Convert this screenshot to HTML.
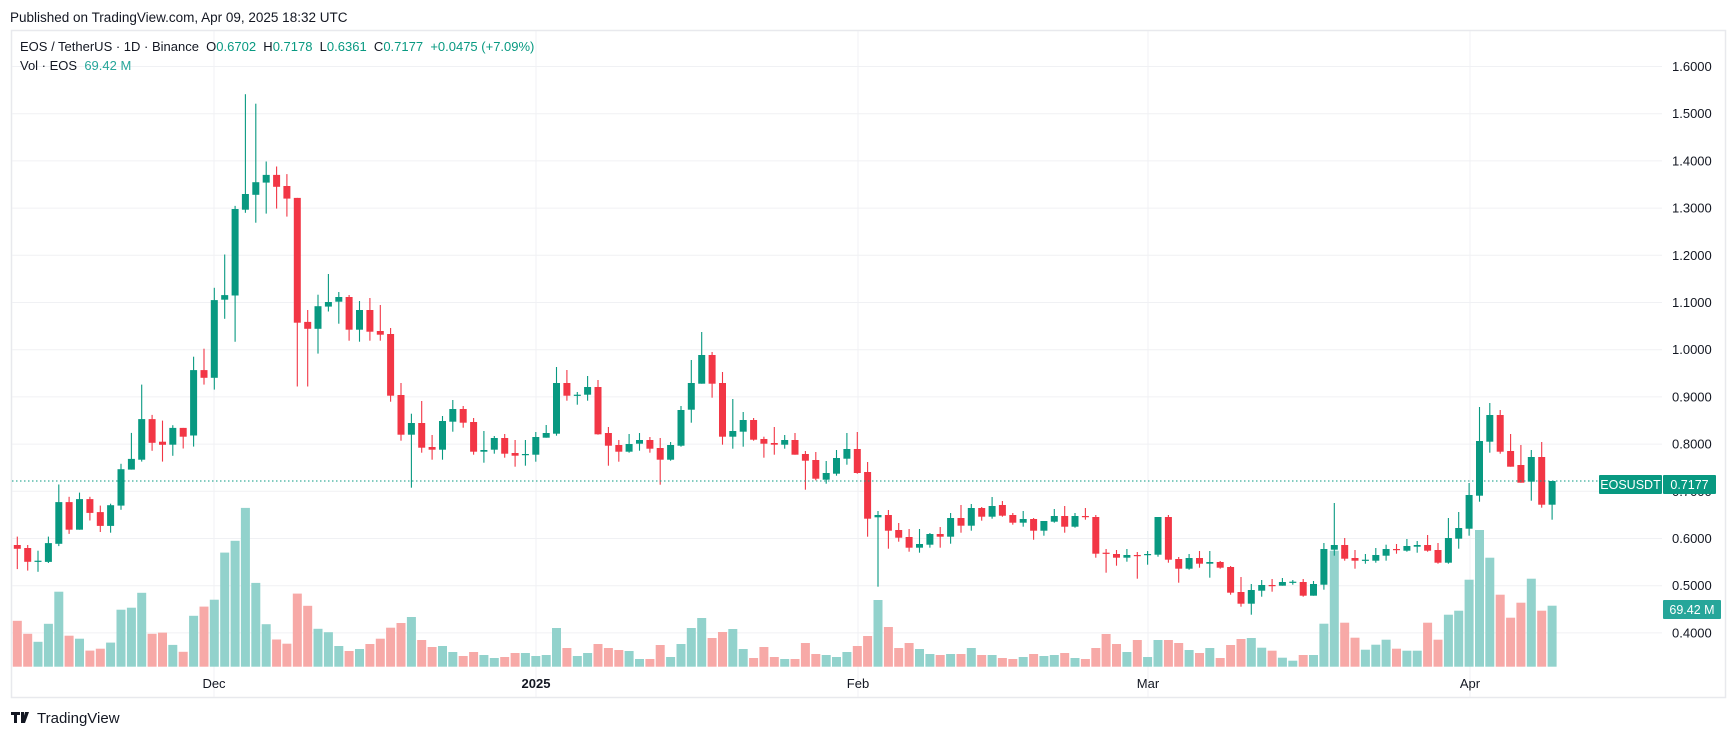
<!DOCTYPE html>
<html><head><meta charset="utf-8"><style>
html,body{margin:0;padding:0;background:#fff;width:1736px;height:737px;overflow:hidden}
svg{display:block}
text{font-family:"Liberation Sans",sans-serif;white-space:pre}
</style></head><body>
<div id="c"></div>
<script>
var S=[
[80,1/2.613,0,[[1215,1225,1193,1278,'r',1413],[1223,1259,1215,1282,'r',1447],[1256,1259,1230,1285,'g',1468],[1210,1259,1193,1262,'g',1421],[1103,1212,1057,1218,'g',1337],[1103,1175,1089,1186,'r',1452],[1095,1175,1078,1175,'g',1460],[1095,1131,1089,1151,'r',1491],[1129,1165,1112,1181,'r',1486],[1111,1165,1107,1183,'g',1470],[1017,1112,1003,1123,'g',1384],[990,1018,922,1018,'g',1379],[886,992,796,997,'g',1340],[886,948,875,969,'r',1447],[945,953,890,997,'r',1444],[909,953,902,982,'g',1476],[909,932,909,963,'r',1494],[758,929,723,958,'g',1400],[758,778,702,796,'r',1376],[575,778,543,809,'g',1358],[562,574,456,624,'g',1235],[337,563,329,684,'g',1204],[298,339,37,347,'g',1118],[267,300,62,373,'g',1314],[248,268,213,349,'g',1422],[248,279,226,336,'r',1462],[277,310,246,357,'r',1473],[308,634,308,801,'r',1342],[632,650,601,801,'r',1374],[591,650,561,715,'g',1434],[580,592,507,605,'g',1443]]],
[230,1/3,31,[[201,215,186,281,'g',1248],[201,299,195,332,'r',1263],[240,299,213,335,'g',1257],[240,305,204,332,'r',1242],[303,314,225,332,'r',1226],[312,497,294,515,'r',1193],[495,614,459,632,'r',1179],[579,614,551,773,'g',1161],[579,653,513,668,'r',1230],[651,659,615,689,'r',1251],[573,659,558,689,'g',1248],[537,575,510,605,'g',1266],[537,578,528,593,'r',1278],[576,665,564,674,'r',1266],[660,665,603,698,'g',1275],[624,659,618,671,'g',1284],[624,671,612,683,'r',1281],[669,677,630,710,'r',1269],[672,675,630,707,'g',1269],[621,674,606,695,'g',1278],[609,623,585,623,'g',1275],[459,611,411,617,'g',1194],[459,497,420,512,'r',1254],[494,497,486,524,'g',1278],[471,494,438,512,'g',1269],[471,613,450,614,'r',1242],[609,647,591,707,'r',1254],[645,665,630,695,'r',1260],[642,665,612,668,'g',1263]]],
[300,1/3,60,[[420,431,399,452,'g',1077],[420,446,411,458,'r',1077],[444,479,414,554,'r',1035],[435,479,426,482,'g',1071],[330,437,318,440,'g',1032],[249,329,180,368,'g',984],[165,251,96,251,'g',954],[165,251,156,293,'r',1014],[249,410,216,434,'r',996],[393,410,297,446,'g',987],[360,395,336,440,'g',1047],[360,419,354,422,'r',1074],[417,431,410,473,'r',1041],[429,434,381,464,'r',1071],[420,434,405,446,'g',1077],[420,464,399,464,'r',1077],[462,482,453,569,'r',1029],[480,536,456,541,'r',1062],[519,539,483,551,'g',1065],[474,521,450,527,'g',1071],[447,476,399,494,'g',1056],[447,519,396,521,'r',1038],[516,656,486,710,'r',1008],[645,652,633,860,'g',900],[645,692,630,746,'r',981],[690,713,669,725,'r',1044],[711,743,687,755,'r',1029],[732,743,687,758,'g',1047],[702,734,699,743,'g',1062],[702,710,681,743,'r',1065]]],
[470,1/3,90,[[144,200,129,221,'g',552],[144,167,105,188,'r',552],[114,167,102,182,'g',534],[114,140,111,152,'r',555],[108,140,81,146,'g',555],[105,137,93,140,'r',564],[135,158,129,164,'r',567],[147,158,123,170,'g',561],[147,182,144,209,'r',552],[153,182,153,197,'g',558],[138,155,117,158,'g',555],[138,170,108,188,'r',549],[138,170,129,173,'g',564],[138,140,114,149,'r',567],[141,251,135,263,'r',534],[248,251,237,308,'r',492],[252,263,240,287,'r',522],[255,263,237,275,'g',546],[255,257,246,326,'r',510],[252,254,243,284,'g',561],[141,254,141,260,'g',510],[141,269,135,278,'r',510],[267,296,261,338,'r',519],[264,296,252,299,'g',540],[264,281,243,293,'r',549],[276,281,243,323,'g',534],[276,293,273,296,'r',564],[291,368,288,374,'r',525],[366,401,321,410,'r',507],[360,401,342,434,'g',504]]],
[380,1/3,120,[[615,632,600,650,'g',803],[615,617,597,635,'r',812],[606,617,594,617,'g',833],[605,607,600,614,'g',842],[606,647,597,650,'r',825],[612,647,603,647,'g',825],[507,614,489,629,'g',731],[495,509,369,527,'g',512],[495,536,474,542,'r',728],[534,542,510,566,'r',773],[539,542,522,551,'g',809],[525,542,504,548,'g',794],[507,527,494,542,'g',779],[507,509,492,521,'r',806],[498,512,477,515,'g',812],[495,500,483,518,'g',812],[495,512,465,515,'r',728],[510,548,489,551,'r',779],[474,548,414,551,'g',704],[444,476,396,506,'g',692],[345,446,309,467,'g',599],[183,347,81,365,'g',450],[105,185,69,218,'g',533],[105,215,90,221,'r',644],[213,260,162,260,'r',713],[255,308,195,308,'r',668],[231,305,210,362,'g',596],[231,374,186,383,'r',692],[303,374,303,419,'g',677]]]
];
var o=[];
o.push('<svg xmlns="http://www.w3.org/2000/svg" width="1736" height="737" viewBox="0 0 1736 737">');
o.push('<rect width="1736" height="737" fill="#fff"/>');
o.push('<text x="10" y="22" font-size="13.5" fill="#131722">Published on TradingView.com, Apr 09, 2025 18:32 UTC</text>');
o.push('<rect x="11.5" y="30.5" width="1714" height="667" fill="none" stroke="#e8e9ed" stroke-width="1.5"/>');
for(var k=0;k<13;k++){var p=1.6-k*0.1;var y=66.5+(1.6-p)*472;
 o.push('<line x1="12" x2="1662" y1="'+y.toFixed(1)+'" y2="'+y.toFixed(1)+'" stroke="#f0f1f4" stroke-width="1"/>');}
[214,536,858,1148,1470].forEach(function(x){o.push('<line x1="'+x+'" x2="'+x+'" y1="31" y2="697" stroke="#f0f1f4"/>');});
S.forEach(function(s){var off=s[0],sc=s[1],st=s[2];s[3].forEach(function(d,j){
 var i=st+j,x=17.3+i*10.37;var f=function(v){return off+v*sc;};
 var g=d[4]=='g';var vt=f(d[5]);
 o.push('<rect x="'+(x-4.5).toFixed(1)+'" y="'+vt.toFixed(1)+'" width="9" height="'+(666.7-vt).toFixed(1)+'" fill="'+(g?'#92d2cc':'#f7a9a7')+'"/>');
});});
S.forEach(function(s){var off=s[0],sc=s[1],st=s[2];s[3].forEach(function(d,j){
 var i=st+j,x=17.3+i*10.37;var f=function(v){return off+v*sc;};
 var c=d[4]=='g'?'#089981':'#f23645';var bt=f(d[0]),bb=f(d[1]);if(bb-bt<1.2)bb=bt+1.2;
 o.push('<line x1="'+x.toFixed(1)+'" x2="'+x.toFixed(1)+'" y1="'+f(d[2]).toFixed(1)+'" y2="'+f(d[3]).toFixed(1)+'" stroke="'+c+'" stroke-width="1.1"/>');
 o.push('<rect x="'+(x-3.5).toFixed(1)+'" y="'+bt.toFixed(1)+'" width="7" height="'+(bb-bt).toFixed(1)+'" fill="'+c+'"/>');
});});
o.push('<line x1="12" x2="1600" y1="481" y2="481" stroke="#089981" stroke-width="1" stroke-dasharray="1.5,2.5"/>');
for(var k=0;k<13;k++){var p=1.6-k*0.1;var y=66.5+(1.6-p)*472;
 o.push('<text x="1672" y="'+(y+4.5).toFixed(1)+'" font-size="13" fill="#131722">'+p.toFixed(4)+'</text>');}
o.push('<rect x="1599" y="475" width="63" height="19" rx="1" fill="#089981"/><text x="1630.5" y="489" font-size="12.5" fill="#fff" text-anchor="middle">EOSUSDT</text>');
o.push('<rect x="1663" y="475" width="53" height="19" rx="1" fill="#089981"/><text x="1689.5" y="489" font-size="12.5" fill="#fff" text-anchor="middle">0.7177</text>');
o.push('<rect x="1663" y="600" width="58" height="19" rx="1" fill="#26a69a"/><text x="1692" y="614" font-size="12.5" fill="#fff" text-anchor="middle">69.42 M</text>');
[['Dec',214,0],['2025',536,1],['Feb',858,0],['Mar',1148,0],['Apr',1470,0]].forEach(function(t){
 o.push('<text x="'+t[1]+'" y="688" font-size="13" text-anchor="middle" fill="#131722"'+(t[2]?' font-weight="bold"':'')+'>'+t[0]+'</text>');});
o.push('<text x="20" y="51" font-size="13" fill="#131722" xml:space="preserve">EOS / TetherUS · 1D · Binance  O<tspan fill="#089981">0.6702</tspan>  H<tspan fill="#089981">0.7178</tspan>  L<tspan fill="#089981">0.6361</tspan>  C<tspan fill="#089981">0.7177</tspan>  <tspan fill="#089981">+0.0475 (+7.09%)</tspan></text>');
o.push('<text x="20" y="70" font-size="13" fill="#131722" xml:space="preserve">Vol · EOS  <tspan fill="#26a69a">69.42 M</tspan></text>');
o.push('<path d="M11 712h9v3h-3v8h-3v-8h-3z M21 712h3v11h-3z M25 712h4l-4 11h-3z" fill="#131722"/>');
o.push('<text x="37" y="723" font-size="15" fill="#131722">TradingView</text>');
o.push('</svg>');
document.getElementById('c').innerHTML=o.join('');
</script>
</body></html>
